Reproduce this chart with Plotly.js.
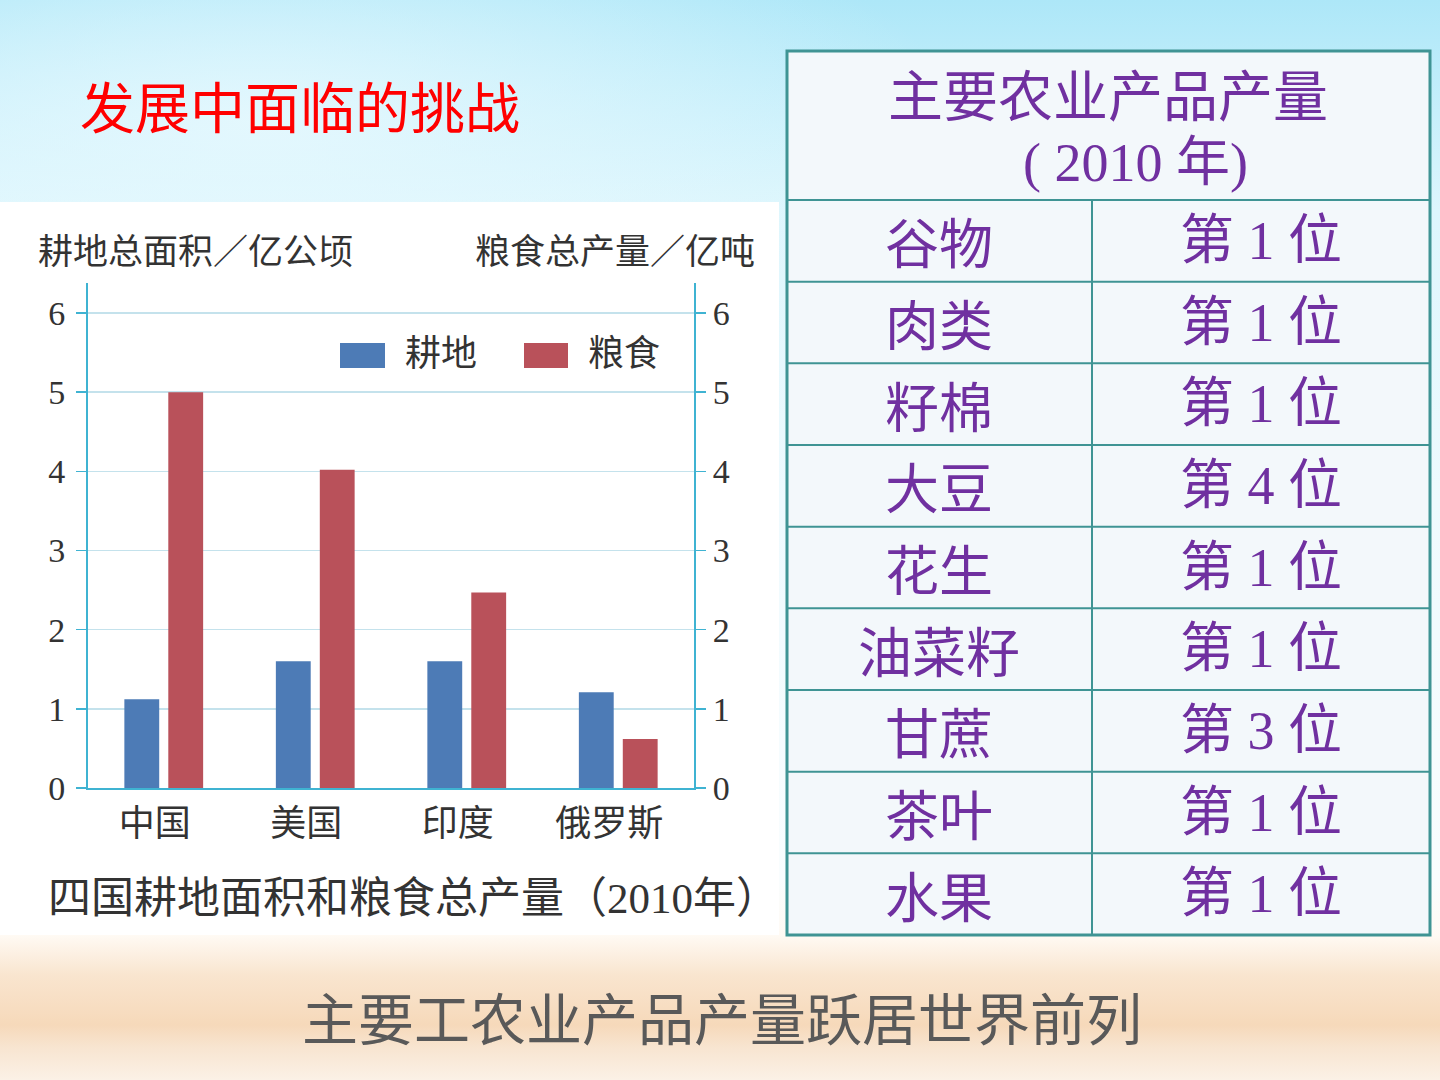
<!DOCTYPE html>
<html><head><meta charset="utf-8">
<script src="https://cdn.plot.ly/plotly-3.0.1.min.js"></script>
<style>
html,body{margin:0;padding:0;overflow:hidden;}
#bg{position:absolute;left:0;top:0;width:1440px;height:1080px;
background:
 radial-gradient(ellipse 700px 240px at 260px 120px, rgba(232,249,254,0.85), rgba(232,249,254,0) 100%),
 linear-gradient(to bottom, #ade7f8 0px, #c6effb 110px, #ddf6fd 210px, #eefafe 500px, #f9fdfe 880px, #fffaf4 935px, #f9e5cf 975px, #f6d9ba 1025px, #f8e5d1 1048px, #fbf1e6 1080px);}
#chart{position:absolute;left:0;top:0;width:1440px;height:1080px;}
</style></head>
<body><div id="bg"></div><div id="chart"></div>
<script>
// ---- data ----
const countries = ['中国', '美国', '印度', '俄罗斯'];
const farmland = [1.12, 1.6, 1.6, 1.21];   // 耕地总面积 / 亿公顷
const grain = [5.0, 4.02, 2.47, 0.62];     // 粮食总产量 / 亿吨
const seriesNames = ['耕地', '粮食'];
const yTicks = [0, 1, 2, 3, 4, 5, 6];
const leftAxisTitle = '耕地总面积／亿公顷';
const rightAxisTitle = '粮食总产量／亿吨';
const chartCaption = '四国耕地面积和粮食总产量（2010年）';
const tableTitle = ['主要农业产品产量', '( 2010 年)'];
const products = ['谷物', '肉类', '籽棉', '大豆', '花生', '油菜籽', '甘蔗', '茶叶', '水果'];
const ranks = [1, 1, 1, 4, 1, 1, 3, 1, 1];
const slideTitle = '发展中面临的挑战';
const slideFooter = '主要工农业产品产量跃居世界前列';

// ---- helpers ----
const W = 1440, H = 1080;
const px = x => x / W;
const py = y => 1 - y / H;
const colors = ['#4d7bb6', '#b9515a'];
const axisColor = '#3fb3d2';
const gridColor = '#c4e2ec';
const textDark = '#333333';
const purple = '#7030a0';
const tableLine = '#3f9494';
const serifCJK = '"Liberation Serif", "Noto Sans CJK SC", serif';
const sansCJK = '"Noto Sans CJK SC", sans-serif';

const xIdx = countries.map((c, i) => i);

const traces = [
  {type: 'bar', x: xIdx, y: farmland, name: seriesNames[0], yaxis: 'y', text: countries,
   marker: {color: colors[0]}, width: 0.23, offset: -0.26, hoverinfo: 'text+y', textposition: 'none'},
  {type: 'bar', x: xIdx, y: grain, name: seriesNames[1], yaxis: 'y2', text: countries,
   marker: {color: colors[1]}, width: 0.23, offset: 0.03, hoverinfo: 'text+y', textposition: 'none'}
];

const yRange = [0, 6.38];
const shapes = [];
const annotations = [];

// white chart panel
shapes.push({type: 'rect', xref: 'paper', yref: 'paper', layer: 'below',
  x0: 0, x1: px(779), y0: py(935), y1: py(202), fillcolor: '#ffffff', line: {width: 0}});

// manual legend
const legendBoxes = [[340, 385], [524, 568]];
const legendText = [441, 624];
seriesNames.forEach((n, i) => {
  shapes.push({type: 'rect', xref: 'paper', yref: 'paper',
    x0: px(legendBoxes[i][0]), x1: px(legendBoxes[i][1]), y0: py(368), y1: py(343),
    fillcolor: colors[i], line: {width: 0}});
  annotations.push({xref: 'paper', yref: 'paper', x: px(legendText[i]), y: py(354),
    text: n, showarrow: false, xanchor: 'center', yanchor: 'middle',
    font: {family: serifCJK, size: 36, color: textDark}});
});

// axis titles
annotations.push({xref: 'paper', yref: 'paper', x: px(36), y: py(252), text: leftAxisTitle,
  showarrow: false, xanchor: 'left', yanchor: 'middle', font: {family: serifCJK, size: 35, color: textDark}});
annotations.push({xref: 'paper', yref: 'paper', x: px(757), y: py(252), text: rightAxisTitle,
  showarrow: false, xanchor: 'right', yanchor: 'middle', font: {family: serifCJK, size: 35, color: textDark}});
// caption
annotations.push({xref: 'paper', yref: 'paper', x: px(414), y: py(898), text: chartCaption,
  showarrow: false, xanchor: 'center', yanchor: 'middle', font: {family: serifCJK, size: 43, color: textDark}});

// slide title & footer
annotations.push({xref: 'paper', yref: 'paper', x: px(300), y: py(104), text: slideTitle,
  showarrow: false, xanchor: 'center', yanchor: 'middle', font: {family: sansCJK, size: 55, color: '#ff0000'}});
annotations.push({xref: 'paper', yref: 'paper', x: px(722), y: py(1015), text: slideFooter,
  showarrow: false, xanchor: 'center', yanchor: 'middle', font: {family: sansCJK, size: 56, color: '#595959'}});

// table
const tL = 787, tR = 1430, tT = 51, tB = 935, headB = 200, colX = 1092;
const rowH = (tB - headB) / products.length;
shapes.push({type: 'rect', xref: 'paper', yref: 'paper', x0: px(tL), x1: px(tR), y0: py(tB), y1: py(tT),
  fillcolor: '#f3f8fb', line: {color: tableLine, width: 3}});
for (let i = 0; i < products.length; i++) {
  const yTop = headB + i * rowH;
  shapes.push({type: 'line', xref: 'paper', yref: 'paper', x0: px(tL), x1: px(tR), y0: py(yTop), y1: py(yTop),
    line: {color: tableLine, width: 2}});
  const yc = yTop + rowH / 2;
  annotations.push({xref: 'paper', yref: 'paper', x: px((tL + colX) / 2), y: py(yc), text: products[i],
    showarrow: false, xanchor: 'center', yanchor: 'middle', font: {family: sansCJK, size: 54, color: purple}});
  annotations.push({xref: 'paper', yref: 'paper', x: px((colX + tR) / 2), y: py(yc), text: '第 ' + ranks[i] + ' 位',
    showarrow: false, xanchor: 'center', yanchor: 'middle', font: {family: serifCJK, size: 54, color: purple}});
}
shapes.push({type: 'line', xref: 'paper', yref: 'paper', x0: px(colX), x1: px(colX), y0: py(tB), y1: py(headB),
  line: {color: tableLine, width: 2}});
annotations.push({xref: 'paper', yref: 'paper', x: px(1108), y: py(92), text: tableTitle[0],
  showarrow: false, xanchor: 'center', yanchor: 'middle', font: {family: sansCJK, size: 55, color: purple}});
annotations.push({xref: 'paper', yref: 'paper', x: px(1135), y: py(163), text: tableTitle[1],
  showarrow: false, xanchor: 'center', yanchor: 'middle', font: {family: serifCJK, size: 54, color: purple}});

const yAxisCommon = {
  range: yRange, tickvals: yTicks, ticktext: yTicks.map(String),
  showline: true, linecolor: axisColor, linewidth: 2,
  ticks: 'outside', ticklen: 10, tickcolor: axisColor, tickwidth: 1.5,
  tickfont: {family: '"Liberation Serif", serif', size: 34, color: textDark},
  zeroline: false, fixedrange: true
};

const layout = {
  width: W, height: H,
  margin: {l: 0, r: 0, t: 0, b: 0},
  paper_bgcolor: 'rgba(0,0,0,0)', plot_bgcolor: 'rgba(0,0,0,0)',
  showlegend: false, barmode: 'overlay',
  xaxis: {domain: [px(88), px(694)], range: [-0.5, 3.5], type: 'linear',
    tickvals: xIdx.map(i => i - 0.06), ticktext: countries,
    showline: true, linecolor: axisColor, linewidth: 2, ticks: '', showgrid: false, zeroline: false,
    tickfont: {family: serifCJK, size: 36, color: textDark}, fixedrange: true, ticklabelstandoff: 3},
  yaxis: Object.assign({}, yAxisCommon, {domain: [py(788), py(283)], side: 'left',
    showgrid: true, gridcolor: gridColor, gridwidth: 1.5, ticklabelstandoff: 4}),
  yaxis2: Object.assign({}, yAxisCommon, {overlaying: 'y', side: 'right', showgrid: false, anchor: 'x',
    ticklabelstandoff: 0}),
  shapes: shapes,
  annotations: annotations
};

Plotly.newPlot('chart', traces, layout, {displayModeBar: false, staticPlot: true});
</script>
</body></html>
